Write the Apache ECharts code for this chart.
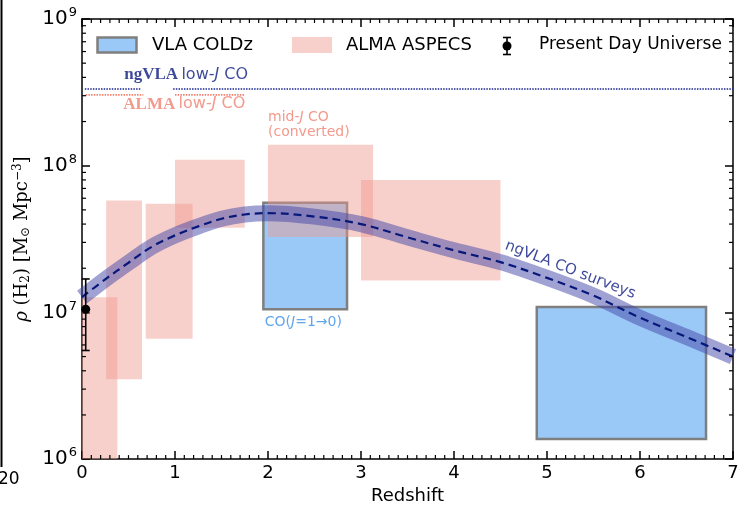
<!DOCTYPE html>
<html>
<head>
<meta charset="utf-8">
<script src="https://cdn.jsdelivr.net/npm/echarts@6/dist/echarts.min.js"></script>
<style>html,body{margin:0;padding:0;background:#fff}#c{width:743px;height:510px}</style>
</head>
<body>
<div id="c"></div>
<script>
// ---- data ----
const xTicks = [0, 1, 2, 3, 4, 5, 6, 7];
const yDecades = [1e6, 1e7, 1e8, 1e9];
// ngVLA CO surveys curve
const curveZ   = [0, 0.25, 0.5, 0.75, 1.0, 1.25, 1.5, 1.75, 2.0, 2.5, 3.0, 3.5, 4.0, 4.5, 5.0, 5.5, 6.0, 6.5, 7.0];
const curveRho = [1.27e7, 1.68e7, 2.18e7, 2.8e7, 3.35e7, 3.86e7, 4.35e7, 4.65e7, 4.75e7, 4.5e7, 4.0e7, 3.25e7, 2.65e7, 2.2e7, 1.72e7, 1.3e7, 9.2e6, 6.8e6, 5.0e6];
// ALMA ASPECS boxes
const almaZ0 = [0.0, 0.26, 0.685, 1.0, 2.0, 3.0];
const almaZ1 = [0.38, 0.645, 1.19, 1.75, 3.13, 4.5];
const almaLo = [5e5, 3.5e6, 6.6e6, 3.77e7, 3.27e7, 1.65e7];
const almaHi = [1.27e7, 5.8e7, 5.5e7, 1.1e8, 1.39e8, 8.0e7];
// VLA COLDz boxes
const coldzZ0 = [1.95, 4.89];
const coldzZ1 = [2.85, 6.71];
const coldzLo = [1.05e7, 1.37e6];
const coldzHi = [5.6e7, 1.09e7];
// Present day universe
const presentZ = [0.04];
const presentRho = [1.05e7];
const presentLo = [5.5e6];
const presentHi = [1.69e7];
// low-J CO limits (segments)
const ngvlaLowJ = 3.33e8;
const ngvlaSegZ = [[0.03, 0.64], [0.98, 7.0]];
const almaLowJ = 3.04e8;
const almaSegZ = [[0.04, 0.66], [1.0, 1.75]];

const FONT = 'DejaVu Sans';
const SERIF = 'DejaVu Serif';

function zip4(a, b, c, d) { return a.map((v, i) => [v, b[i], c[i], d[i]]); }
function segData(segs, v) {
  const out = [];
  segs.forEach((s, i) => { if (i) out.push([null, null]); out.push([s[0], v], [s[1], v]); });
  return out;
}
const minorY = [];
[1e6, 1e7, 1e8].forEach(d => { for (let k = 2; k <= 9; k++) minorY.push([0, k * d]); });
const minorX = [];
for (let i = 0; i < 70; i++) { if (i % 10) minorX.push([i / 10, 1e6]); }

function boxRender(fill, stroke, lw) {
  return function (params, api) {
    const p0 = api.coord([api.value(0), api.value(3)]);
    const p1 = api.coord([api.value(1), api.value(2)]);
    const cs = params.coordSys;
    const shape = echarts.graphic.clipRectByRect(
      { x: p0[0], y: p0[1], width: p1[0] - p0[0], height: p1[1] - p0[1] },
      { x: cs.x, y: cs.y, width: cs.width, height: cs.height });
    if (!shape) return;
    return { type: 'rect', shape: shape, style: { fill: fill, stroke: stroke, lineWidth: lw } };
  };
}

const chart = echarts.init(document.getElementById('c'), null, { renderer: 'canvas' });

const axisCommonX = {
  type: 'value', min: 0, max: 7, interval: 1,
  axisLine: { show: true, onZero: false, lineStyle: { color: '#000', width: 1.5 } },
  axisTick: { show: true, inside: true, length: 8, lineStyle: { color: '#000', width: 1.5 } },
  minorTick: { show: false },
  splitLine: { show: false }
};
const axisCommonY = {
  type: 'log', logBase: 10, min: 1e6, max: 1e9,
  axisLine: { show: true, onZero: false, lineStyle: { color: '#000', width: 1.5 } },
  axisTick: { show: true, inside: true, length: 8, lineStyle: { color: '#000', width: 1.5 } },
  splitLine: { show: false }
};

const labelTexts = [
  { value: [5.25, 1.95e7], text: 'ngVLA CO surveys', rich: 'n', rotate: -21, align: 'center' },
  { value: [1.12, 4.15e8], text: '{sf|ngVLA} {s|low-}{i|J}{s| CO}', rich: 'nav', align: 'center' },
  { value: [1.1, 2.62e8], text: '{sf|ALMA} {s|low-}{i|J}{s| CO}', rich: 'sal', align: 'center' },
  { value: [2.0, 2.15e8], text: '{s|mid-}{i|J}{s| CO}', rich: 'mid', align: 'left' },
  { value: [2.0, 1.68e8], text: '{s|(converted)}', rich: 'mid', align: 'left' },
  { value: [2.38, 8.5e6], text: '{s|CO(}{i|J}{s|=1→0)}', rich: 'blu', align: 'center' }
];
function richFor(color, big) {
  const fs = big ? 16 : 14;
  return {
    s: { fontFamily: FONT, fontSize: fs, color: color },
    i: { fontFamily: FONT, fontSize: fs, color: color, fontStyle: 'italic' },
    sf: { fontFamily: 'Liberation Serif', fontSize: 17, color: color, fontWeight: 'bold' }
  };
}
const richMap = { nav: richFor('#0b1a80', true), sal: richFor('#f08070', true), mid: richFor('#f08070'), blu: richFor('#3a8ee8') };

function tickRender(kind) {
  return function (params, api) {
    const cs = params.coordSys;
    const st = { stroke: '#000', lineWidth: 1.2 };
    if (kind === 'y') {
      const y = api.coord([0, api.value(1)])[1];
      return { type: 'group', children: [
        { type: 'line', shape: { x1: cs.x, y1: y, x2: cs.x + 4, y2: y }, style: st },
        { type: 'line', shape: { x1: cs.x + cs.width - 4, y1: y, x2: cs.x + cs.width, y2: y }, style: st }
      ] };
    }
    const x = api.coord([api.value(0), 1e6])[0];
    return { type: 'group', children: [
      { type: 'line', shape: { x1: x, y1: cs.y + cs.height, x2: x, y2: cs.y + cs.height - 4 }, style: st },
      { type: 'line', shape: { x1: x, y1: cs.y, x2: x, y2: cs.y + 4 }, style: st }
    ] };
  };
}

const option = {
  animation: false,
  backgroundColor: '#fff',
  grid: { left: 82, right: 10, top: 19, bottom: 50, containLabel: false },
  xAxis: [
    Object.assign({}, axisCommonX, {
      position: 'bottom',
      name: 'Redshift', nameLocation: 'middle', nameGap: 26,
      nameTextStyle: { fontFamily: FONT, fontSize: 18, color: '#000' },
      axisLabel: { fontFamily: FONT, fontSize: 18, color: '#000', margin: 5 }
    }),
    Object.assign({}, axisCommonX, { position: 'top', axisLabel: { show: false } })
  ],
  yAxis: [
    Object.assign({}, axisCommonY, {
      position: 'left',
      name: '{r|ρ} (H{sub|2}) [M{sub|⊙} Mpc{sup|−3}]',
      nameLocation: 'middle', nameRotate: 90, nameGap: 33,
      nameTextStyle: {
        fontFamily: SERIF, fontSize: 18, color: '#000',
        rich: {
          r: { fontFamily: SERIF, fontStyle: 'italic', fontSize: 18 },
          sub: { fontFamily: SERIF, fontSize: 12, padding: [7, 0, 0, 0] },
          sup: { fontFamily: SERIF, fontSize: 12, padding: [0, 0, 9, 0] }
        }
      },
      axisLabel: {
        margin: 5,
        formatter: v => '{b|10}{s|' + Math.round(Math.log10(v)) + '}',
        rich: {
          b: { fontFamily: FONT, fontSize: 20, color: '#000' },
          s: { fontFamily: FONT, fontSize: 13, color: '#000', padding: [0, 0, 12, 1] }
        }
      }
    }),
    Object.assign({}, axisCommonY, { position: 'right', axisLabel: { show: false } })
  ],
  graphic: [
    // stray edge from neighbouring panel
    { type: 'line', shape: { x1: 1.5, y1: 0, x2: 1.5, y2: 467 }, style: { stroke: '#000', lineWidth: 2 } },
    { type: 'text', left: -2, top: 471, style: { text: '20', font: '17px "DejaVu Sans"', fill: '#000' } },
    // legend
    { type: 'rect', shape: { x: 97.5, y: 37.5, width: 39, height: 15 }, style: { fill: '#9ac8f7', stroke: '#7f7f7f', lineWidth: 2.5 } },
    { type: 'text', x: 152, y: 45, style: { text: 'VLA COLDz', font: '18px "DejaVu Sans"', fill: '#000', verticalAlign: 'middle' } },
    { type: 'rect', shape: { x: 292, y: 37, width: 40, height: 16 }, style: { fill: 'rgba(240,150,140,0.45)' } },
    { type: 'text', x: 346, y: 45, style: { text: 'ALMA ASPECS', font: '18px "DejaVu Sans"', fill: '#000', verticalAlign: 'middle' } },
    { type: 'line', shape: { x1: 507, y1: 37.5, x2: 507, y2: 54.5 }, style: { stroke: '#000', lineWidth: 1.6 } },
    { type: 'line', shape: { x1: 503, y1: 37.5, x2: 511, y2: 37.5 }, style: { stroke: '#000', lineWidth: 1.6 } },
    { type: 'line', shape: { x1: 503, y1: 54.5, x2: 511, y2: 54.5 }, style: { stroke: '#000', lineWidth: 1.6 } },
    { type: 'circle', shape: { cx: 507, cy: 46, r: 4.5 }, style: { fill: '#000' } },
    { type: 'text', x: 539, y: 45, style: { text: 'Present Day Universe', font: '17px "DejaVu Sans"', fill: '#000', verticalAlign: 'middle' } }
  ],
  series: [
    {
      name: 'VLA COLDz', type: 'custom', z: 1,
      renderItem: boxRender('#9ac8f7', '#7f7f7f', 2.5),
      encode: { x: [0, 1], y: [2, 3] },
      data: zip4(coldzZ0, coldzZ1, coldzLo, coldzHi), clip: true
    },
    {
      name: 'ALMA ASPECS', type: 'custom', z: 2,
      renderItem: boxRender('rgba(240,150,140,0.45)', null, 0),
      encode: { x: [0, 1], y: [2, 3] },
      data: zip4(almaZ0, almaZ1, almaLo, almaHi), clip: true
    },
    {
      name: 'band', type: 'line', z: 3, smooth: 0.35, symbol: 'none',
      lineStyle: { color: 'rgba(66,70,168,0.5)', width: 16, cap: 'butt' },
      data: curveZ.map((z, i) => [z, curveRho[i]])
    },
    {
      name: 'ngVLA CO surveys', type: 'line', z: 4, smooth: 0.35, symbol: 'none',
      lineStyle: { color: '#08187a', width: 2.2, type: [8, 5] },
      data: curveZ.map((z, i) => [z, curveRho[i]])
    },
    {
      name: 'ngVLA low-J CO', type: 'line', z: 4, symbol: 'none', connectNulls: false,
      lineStyle: { color: '#1a2590', width: 1.6, type: [1.5, 1.2] },
      data: segData(ngvlaSegZ, ngvlaLowJ)
    },
    {
      name: 'ALMA low-J CO', type: 'line', z: 4, symbol: 'none', connectNulls: false,
      lineStyle: { color: '#f08070', width: 1.6, type: [1.5, 1.2] },
      data: segData(almaSegZ, almaLowJ)
    },
    {
      name: 'Present Day Universe', type: 'custom', z: 5,
      encode: { x: 0, y: [1, 2, 3] },
      renderItem: function (params, api) {
        const z = api.value(0);
        const c = api.coord([z, api.value(1)]);
        const lo = api.coord([z, api.value(2)]);
        const hi = api.coord([z, api.value(3)]);
        const st = { stroke: '#000', lineWidth: 1.6 };
        return { type: 'group', children: [
          { type: 'line', shape: { x1: c[0], y1: lo[1], x2: c[0], y2: hi[1] }, style: st },
          { type: 'line', shape: { x1: c[0] - 4, y1: lo[1], x2: c[0] + 4, y2: lo[1] }, style: st },
          { type: 'line', shape: { x1: c[0] - 4, y1: hi[1], x2: c[0] + 4, y2: hi[1] }, style: st },
          { type: 'circle', shape: { cx: c[0], cy: c[1], r: 4.5 }, style: { fill: '#000' } }
        ] };
      },
      data: presentZ.map((z, i) => [z, presentRho[i], presentLo[i], presentHi[i]]), clip: false
    },
    {
      name: 'minorTicksY', type: 'custom', z: 6, silent: true,
      encode: { x: 0, y: 1 }, renderItem: tickRender('y'), data: minorY, clip: false
    },
    {
      name: 'minorTicksX', type: 'custom', z: 6, silent: true,
      encode: { x: 0, y: 1 }, renderItem: tickRender('x'), data: minorX, clip: false
    },
    {
      name: 'labels', type: 'scatter', z: 7, symbolSize: 0, silent: true,
      data: labelTexts.map(t => ({
        value: t.value,
        label: t.rich === 'n' ? {
          show: true, position: 'inside', formatter: t.text, rotate: t.rotate,
          fontFamily: FONT, fontSize: 15, color: '#0b1a80', align: 'center', verticalAlign: 'middle'
        } : {
          show: true, position: 'inside', formatter: t.text, rich: richMap[t.rich],
          align: t.align, verticalAlign: 'middle'
        }
      }))
    }
  ]
};
chart.setOption(option);
</script>
</body>
</html>
